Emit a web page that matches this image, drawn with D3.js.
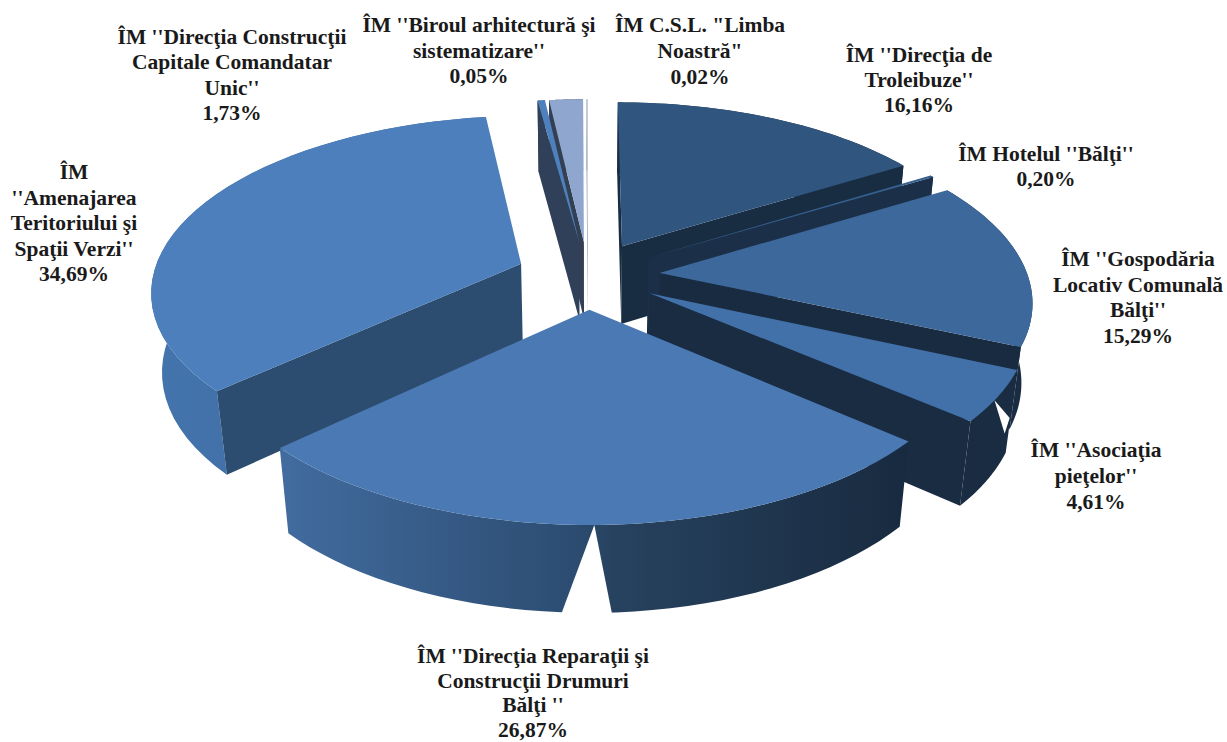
<!DOCTYPE html>
<html><head><meta charset="utf-8">
<script src="https://cdn.jsdelivr.net/npm/d3@7"></script>
<style>html,body{margin:0;background:#fff}svg{display:block}text{font-family:"Liberation Serif",serif;font-weight:bold;font-size:21.5px;fill:#1a1a1a;text-anchor:middle}</style>
</head><body><svg id="c" width="1227" height="742"></svg>
<script>
// Data, clockwise from twelve o'clock
const names = [
 ["ÎM ''Direcţia de","Troleibuze''"],
 ["ÎM Hotelul ''Bălţi''"],
 ["ÎM ''Gospodăria","Locativ Comunală","Bălţi''"],
 ["ÎM ''Asociaţia","pieţelor''"],
 ["ÎM ''Direcţia Reparaţii şi","Construcţii Drumuri","Bălţi ''"],
 ["ÎM","''Amenajarea","Teritoriului şi","Spaţii Verzi''"],
 null,
 ["ÎM ''Direcţia Construcţii","Capitale Comandatar","Unic''"],
 ["ÎM ''Biroul arhitectură şi","sistematizare''"],
 ["ÎM C.S.L. \"Limba","Noastră\""]
];
const values = [16.16,0.20,15.29,4.61,26.87,34.69,0.38,1.73,0.05,0.02];
// Styles per slice
const topColors = ["#30557f","#35608f","#3d689c","#4270a8","#4a79b3","#4c7fbb","#4d80bd","#8fa6cf","#c4cfe4","#e4e9f3"];
const cutColors = ["#182c42","#1b3048","#182b40","#1a2c42","#1a2c42","#2c4c70","#2f4058","#333f52","#9aa3b3","#b5bcc8"];
const rimColors = [["#1a2e45","#1a2e45"],["#1a2e45","#1a2e45"],["#1a2e45","#1a2c42"],["#1a2c42","#1a2c42"],
  ["#426c9f","#2c4c71","#27425f","#182a3f"],["#4474ad","#3d689c"],["#2f4058","#2f4058"],["#333f52","#333f52"],["#9aa3b3","#9aa3b3"],["#b5bcc8","#b5bcc8"]];
// Label placement: centre x, first line centre y, line step
const labelX = [919,1046,1138,1096,533,74,0,232,479,700];
const labelY = [56,155,260,451,657,173,0,38,26,26];
const labelStep = [25,25,25.6,26,24.7,25.5,0,25.3,25.5,26];
// Projection parameters
const cx=588, cy=275, Rx=368, Ry=172.7, H=81, persp=0.146, persp2=0.025, explode=0.195;

const deg=Math.PI/180;
const svg=d3.select("#c"), defs=svg.append("defs");
const arcs=d3.pie().sort(null)(values);
const proj=(a,th,r,z)=>{
  const ox=explode*Math.sin(a), oy=-explode*Math.cos(a);
  const X=ox+r*Math.sin(th), Y=oy-r*Math.cos(th), s=1/(1-persp*Y+persp2*z);
  return [cx+Rx*X*s, cy+(Ry*Y+H*z)*s];
};
const line=d3.line();
const area=p=>d3.sum(p,(q,i)=>{const n=p[(i+1)%p.length];return q[0]*n[1]-n[0]*q[1];});
const sweep=(t0,t1)=>d3.range(0,41).map(i=>t0+(t1-t0)*i/40);

// White nicks where the rendered rim is broken: slice, then [angle deg, r, depth]
const nickSlices=[4,3];
const nickPts=[[[179.4,1,0],[183.8,1,1.03],[177,1,1.03]],[[123.5,1,0],[116.5,1,0.66],[114.5,1,0.55]]];

const order=arcs.map((d,i)=>i).sort((p,q)=>{
  const mid=d=>(d.startAngle+d.endAngle)/2;
  return (-Math.cos(mid(arcs[p])))-(-Math.cos(mid(arcs[q])));
});
order.forEach(i=>{
  const d=arcs[i], a=(d.startAngle+d.endAngle)/2, t=sweep(d.startAngle,d.endAngle);
  const g=svg.append("g");
  const topArc=t.map(th=>proj(a,th,1,0)), botArc=t.map(th=>proj(a,th,1,1));
  const apex=proj(a,0,0,0), apexB=proj(a,0,0,1);
  const grad=defs.append("linearGradient").attr("id","r"+i);
  rimColors[i].forEach((c,k,arr)=>grad.append("stop").attr("offset",k/(arr.length-1)).attr("stop-color",c));
  if(i===4) grad.selectAll("stop").attr("offset",(_,k)=>[0,.47,.53,1][k]);
  g.append("path").attr("d",line([...topArc,...botArc.slice().reverse()])+"Z").attr("fill",`url(#r${i})`);
  const faces=[[d.startAngle,-1],[d.endAngle,1]];
  faces.forEach(([th,sign])=>{
    const q=[apex,proj(a,th,1,0),proj(a,th,1,1),apexB];
    if(area(q)*sign>0) g.append("path").attr("d",line(q)+"Z").attr("fill",cutColors[i]);
  });
  g.append("path").attr("d",line([apex,...topArc])+"Z").attr("fill",topColors[i]);
  const n=nickSlices.indexOf(i);
  if(n>=0) g.append("path").attr("d",line(nickPts[n].map(([th,r,z])=>proj(a,th*deg,r,z)))+"Z").attr("fill","#fff");
});

const lab=svg.append("g");
names.forEach((n,i)=>{
  if(!n) return;
  const lines=[...n,values[i].toFixed(2).replace(".",",")+"%"];
  lab.append("text").selectAll("tspan").data(lines).join("tspan")
    .attr("x",labelX[i]).attr("y",(_,k)=>labelY[i]+k*labelStep[i]+6).text(l=>l);
});
</script></body></html>
